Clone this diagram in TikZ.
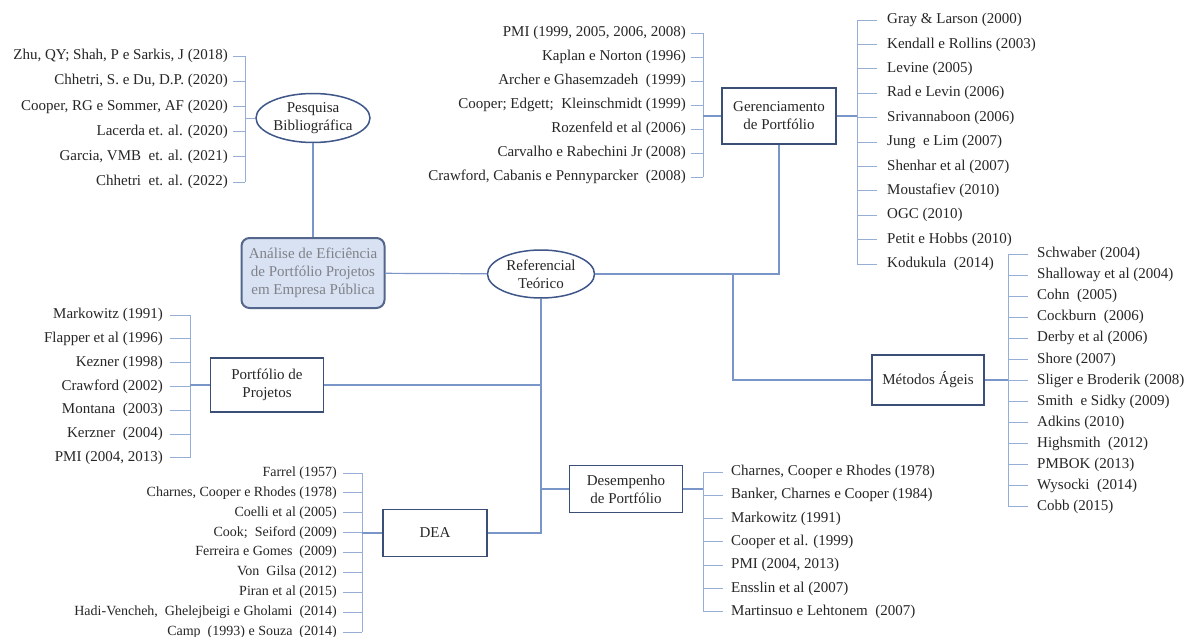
\documentclass[tikz,border=0pt]{standalone}
\usepackage{fontspec}
\setmainfont{Liberation Serif}
\usetikzlibrary{shapes.geometric}

\definecolor{txt}{RGB}{38,38,38}
\definecolor{boxcol}{RGB}{58,78,118}
\definecolor{ellcol}{RGB}{62,86,136}
\definecolor{linkc}{RGB}{122,150,200}
\definecolor{tickc}{RGB}{150,174,214}
\definecolor{rootfill}{RGB}{216,226,243}
\definecolor{rootdraw}{RGB}{84,102,140}
\definecolor{roottxt}{RGB}{128,130,136}

\begin{document}
\begin{tikzpicture}[x=1pt,y=-1pt,
  every node/.style={font=\fontsize{15}{18}\selectfont, text=txt},
  topic/.style={draw=boxcol, line width=1.5pt, fill=white, align=center, inner sep=0pt},
  oval/.style={ellipse, draw=ellcol, line width=1.5pt, fill=white, align=center, inner sep=0pt},
  item/.style={inner xsep=5pt, inner ysep=0pt},
  litem/.style={item, anchor=east},
  ritem/.style={item, anchor=west},
  link/.style={draw=linkc, line width=1.2pt},
  tick/.style={draw=tickc, line width=1pt}]

\useasboundingbox (0,0) rectangle (1189,637);
\fill[white] (0,0) rectangle (1189,637);

% ---- central topics ----
\node[draw=rootdraw, fill=rootfill, line width=2pt, rounded corners=8pt,
      minimum width=143pt, minimum height=70pt, align=center, inner sep=0pt,
      text=roottxt] (root) at (313,273)
      {Análise de Eficiência\\de Portfólio Projetos\\em Empresa Pública};
\node[oval, minimum width=114pt, minimum height=49pt] (pesq) at (313,118)
      {Pesquisa\\Bibliográfica};
\node[oval, minimum width=107pt, minimum height=48pt] (ref) at (541,274)
      {Referencial\\Teórico};
\node[topic, minimum width=114pt, minimum height=56pt] (ger) at (779,116)
      {Gerenciamento\\de Portfólio};
\node[topic, minimum width=112pt, minimum height=50pt] (met) at (928,380)
      {Métodos Ágeis};
\node[topic, minimum width=113pt, minimum height=54pt] (port) at (267,385)
      {Portfólio de\\Projetos};
\node[topic, minimum width=104pt, minimum height=47pt] (dea) at (435,533)
      {DEA};
\node[topic, minimum width=113pt, minimum height=47pt] (des) at (626,489)
      {Desempenho\\de Portfólio};

% ---- main connectors ----
\draw[link] (pesq) -- (root);
\draw[link] (root) -- (ref);
\coordinate (jm) at (733,274);
\draw[link] (ref.east) -| (ger.south);
\draw[link] (jm) |- (met.west);
\draw[link] (ref.south) |- (dea.east);
\draw[link] (port.east) -- (port.east -| ref.south);
\draw[link] (ref.south |- des.west) -- (des.west);

% ---- Pesquisa Bibliográfica ----
\foreach \t [count=\i] in {{Zhu, QY; Shah, P e Sarkis, J (2018)},
    {Chhetri, S. e Du, D.P. (2020)}, {Cooper, RG e Sommer, AF (2020)},
    {Lacerda et. al. (2020)}, {Garcia, VMB\ \ et. al. (2021)},
    {Chhetri\ \ et. al. (2022)}}{
  \node[litem] (pb\i) at (233,{56+25.2*(\i-1)}) {\t};
  \coordinate (pbk\i) at (245,{56+25.2*(\i-1)});
  \draw[tick] (pb\i.east) -- (pbk\i);
}
\draw[tick] (pbk1) -- (pbk6);
\draw[tick] (pesq.west -| pbk1) -- (pesq.west);

% ---- Gerenciamento de Portfólio, left ----
\foreach \t [count=\i] in {{PMI (1999, 2005, 2006, 2008)},
    {Kaplan e Norton (1996)}, {Archer e Ghasemzadeh\ \ (1999)},
    {Cooper; Edgett;\ \ Kleinschmidt (1999)}, {Rozenfeld et al (2006)},
    {Carvalho e Rabechini Jr (2008)},
    {Crawford, Cabanis e Pennyparcker\ \ (2008)}}{
  \node[litem] (gl\i) at (691,{33+24*(\i-1)}) {\t};
  \coordinate (glk\i) at (703,{33+24*(\i-1)});
  \draw[tick] (gl\i.east) -- (glk\i);
}
\draw[tick] (glk1) -- (glk7);
\draw[link] (ger.west -| glk1) -- (ger.west);

% ---- Gerenciamento de Portfólio, right ----
\foreach \t [count=\i] in {{Gray \& Larson (2000)}, {Kendall e Rollins (2003)},
    {Levine (2005)}, {Rad e Levin (2006)}, {Srivannaboon (2006)},
    {Jung\ \ e Lim (2007)}, {Shenhar et al (2007)}, {Moustafiev (2010)},
    {OGC (2010)}, {Petit e Hobbs (2010)}, {Kodukula\ \ (2014)}}{
  \coordinate (grk\i) at (857,{20+24.4*(\i-1)});
  \node[ritem, inner xsep=10pt] (gr\i) at (877,{20+24.4*(\i-1)}) {\t};
  \draw[tick] (grk\i) -- (gr\i.west);
}
\draw[tick] (grk1) -- (grk11);
\draw[link] (ger.east) -- (ger.east -| grk1);

% ---- Métodos Ágeis ----
\foreach \t [count=\i] in {{Schwaber (2004)}, {Shalloway et al (2004)},
    {Cohn\ \ (2005)}, {Cockburn\ \ (2006)}, {Derby et al (2006)},
    {Shore (2007)}, {Sliger e Broderik (2008)}, {Smith\ \ e Sidky (2009)},
    {Adkins (2010)}, {Highsmith\ \ (2012)}, {PMBOK (2013)},
    {Wysocki\ \ (2014)}, {Cobb (2015)}}{
  \coordinate (mk\i) at (1008,{254+21.08*(\i-1)});
  \node[ritem, inner xsep=9pt] (m\i) at (1028,{254+21.08*(\i-1)}) {\t};
  \draw[tick] (mk\i) -- (m\i.west);
}
\draw[tick] (mk1) -- (mk13);
\draw[link] (met.east) -- (met.east -| mk1);

% ---- Portfólio de Projetos ----
\foreach \t [count=\i] in {{Markowitz (1991)}, {Flapper et al (1996)},
    {Kezner (1998)}, {Crawford (2002)}, {Montana\ \ (2003)},
    {Kerzner\ \ (2004)}, {PMI (2004, 2013)}}{
  \node[litem, inner xsep=7pt] (p\i) at (170,{315+23.8*(\i-1)}) {\t};
  \coordinate (pk\i) at (190,{315+23.8*(\i-1)});
  \draw[tick] (p\i.east) -- (pk\i);
}
\draw[tick] (pk1) -- (pk7);
\draw[link] (port.west -| pk1) -- (port.west);

% ---- DEA ----
\foreach \t [count=\i] in {{Farrel (1957)}, {Charnes,\ Cooper e Rhodes (1978)},
    {Coelli et al (2005)}, {Cook;\ \ Seiford (2009)},
    {Ferreira e Gomes\ \ (2009)}, {Von\ \ Gilsa (2012)}, {Piran et al (2015)},
    {Hadi-Vencheh,\ \ Ghelejbeigi e Gholami\ \ (2014)},
    {Camp\ \ (1993) e Souza\ \ (2014)}}{
  \node[litem, inner xsep=6pt, font=\fontsize{14}{16}\selectfont] (d\i)
        at (343,{473+19.9*(\i-1)}) {\t};
  \coordinate (dk\i) at (362,{473+19.9*(\i-1)});
  \draw[tick] (d\i.east) -- (dk\i);
}
\draw[tick] (dk1) -- (dk9);
\draw[link] (dea.west -| dk1) -- (dea.west);

% ---- Desempenho de Portfólio ----
\foreach \t [count=\i] in {{Charnes, Cooper e Rhodes (1978)},
    {Banker, Charnes e Cooper (1984)}, {Markowitz (1991)},
    {Cooper et al. (1999)}, {PMI (2004, 2013)}, {Ensslin et al (2007)},
    {Martinsuo e Lehtonem\ \ (2007)}}{
  \coordinate (ek\i) at (703,{472+23.3*(\i-1)});
  \node[ritem, inner xsep=8pt] (e\i) at (723,{472+23.3*(\i-1)}) {\t};
  \draw[tick] (ek\i) -- (e\i.west);
}
\draw[tick] (ek1) -- (ek7);
\draw[link] (des.east) -- (des.east -| ek1);

\end{tikzpicture}
\end{document}
